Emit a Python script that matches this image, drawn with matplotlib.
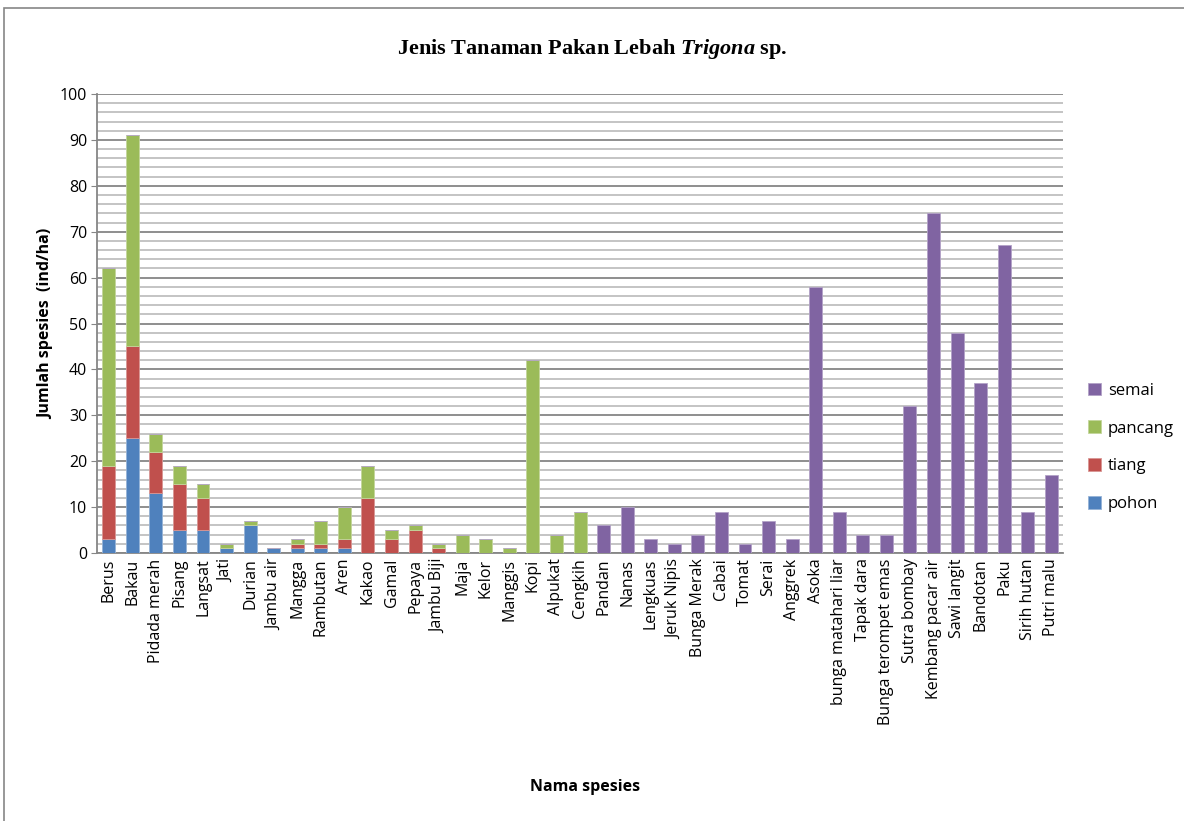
import matplotlib
matplotlib.use("Agg")
import matplotlib.pyplot as plt
import numpy as np
from matplotlib.patches import Rectangle

# data (ind/ha)
species = [
    "Berus", "Bakau", "Pidada merah", "Pisang", "Langsat", "Jati", "Durian",
    "Jambu air", "Mangga", "Rambutan", "Aren", "Kakao", "Gamal", "Pepaya",
    "Jambu Biji", "Maja", "Kelor", "Manggis", "Kopi", "Alpukat", "Cengkih",
    "Pandan", "Nanas", "Lengkuas", "Jeruk Nipis", "Bunga Merak", "Cabai",
    "Tomat", "Serai", "Anggrek", "Asoka", "bunga matahari liar", "Tapak dara",
    "Bunga terompet emas", "Sutra bombay", "Kembang pacar air", "Sawi langit",
    "Bandotan", "Paku", "Sirih hutan", "Putri malu",
]
pohon = [3, 25, 13, 5, 5, 1, 6, 1, 1, 1, 1, 0, 0, 0, 0, 0, 0, 0, 0, 0, 0,
         0, 0, 0, 0, 0, 0, 0, 0, 0, 0, 0, 0, 0, 0, 0, 0, 0, 0, 0, 0]
tiang = [16, 20, 9, 10, 7, 0, 0, 0, 1, 1, 2, 12, 3, 5, 1, 0, 0, 0, 0, 0, 0,
         0, 0, 0, 0, 0, 0, 0, 0, 0, 0, 0, 0, 0, 0, 0, 0, 0, 0, 0, 0]
pancang = [43, 46, 4, 4, 3, 1, 1, 0, 1, 5, 7, 7, 2, 1, 1, 4, 3, 1, 42, 4, 9,
           0, 0, 0, 0, 0, 0, 0, 0, 0, 0, 0, 0, 0, 0, 0, 0, 0, 0, 0, 0]
semai = [0, 0, 0, 0, 0, 0, 0, 0, 0, 0, 0, 0, 0, 0, 0, 0, 0, 0, 0, 0, 0,
         6, 10, 3, 2, 4, 9, 2, 7, 3, 58, 9, 4, 4, 32, 74, 48, 37, 67, 9, 17]

series = [
    ("pohon", pohon, "#4F81BD", "#95B3D7"),
    ("tiang", tiang, "#C0504D", "#D99694"),
    ("pancang", pancang, "#9BBB59", "#C3D69B"),
    ("semai", semai, "#8064A2", "#B3A2C7"),
]

fig = plt.figure(figsize=(11.84, 8.21), dpi=100)
ax = fig.add_axes([0.0819, 0.3264, 0.8160, 0.5591])

x = np.arange(len(species))
bottom = np.zeros(len(species))
handles = []
for name, vals, col, edge in series:
    vals = np.array(vals, dtype=float)
    b = ax.bar(x, vals, 0.55, bottom=bottom, color=col, edgecolor=edge,
               linewidth=0.6, label=name, zorder=3)
    handles.append(b)
    bottom += vals

ax.set_xlim(-0.5, len(species) - 0.5)
ax.set_ylim(0, 100)
ax.set_yticks(np.arange(0, 101, 10))
ax.set_yticks(np.arange(0, 101, 2), minor=True)
ax.grid(True, which="minor", axis="y", color="#BFBFBF", linewidth=1.3, zorder=0)
ax.grid(True, which="major", axis="y", color="#868686", linewidth=1.3, zorder=1)
ax.tick_params(axis="y", which="minor", length=0)
ax.tick_params(axis="y", which="major", length=4, color="#868686",
               labelsize=11.5, pad=3)

ax.set_xticks(x)
ax.set_xticklabels(species, rotation=90, fontsize=11.5, family="Open Sans")
ax.tick_params(axis="x", length=0, pad=4)
for lbl in ax.get_yticklabels():
    lbl.set_family("Open Sans")

for s in ["top", "right"]:
    ax.spines[s].set_visible(False)
ax.spines["left"].set_color("#868686")
ax.spines["bottom"].set_color("#868686")
ax.spines["left"].set_linewidth(1.3)
ax.spines["bottom"].set_linewidth(1.3)

ax.set_ylabel("Jumlah spesies  (ind/ha)", fontsize=11.5, fontweight="bold",
              family="Open Sans", labelpad=4)
fig.text(0.494, 0.041, "Nama spesies", ha="center", va="center",
         fontsize=11.5, fontweight="bold", family="Open Sans")

plt.rcParams["mathtext.fontset"] = "custom"
plt.rcParams["mathtext.it"] = "Liberation Serif:italic:bold"
plt.rcParams["mathtext.rm"] = "Liberation Serif:bold"
fig.text(0.50, 0.940, r"Jenis Tanaman Pakan Lebah $\mathit{Trigona}$ sp.",
         ha="center", va="center", fontsize=16, fontweight="bold",
         family="Liberation Serif")

leg = fig.legend(handles[::-1], [s[0] for s in series][::-1],
                 loc="center left", bbox_to_anchor=(0.906, 0.455),
                 frameon=False, fontsize=12, handlelength=0.8,
                 handleheight=0.8, labelspacing=1.3, handletextpad=0.4,
                 prop={"family": "Open Sans", "size": 12})

# outer chart border
fig.patches.append(Rectangle((0.003, -0.01), 1.1, 1.0,
                             transform=fig.transFigure, fill=False,
                             edgecolor="#868686", linewidth=1.2))

fig.savefig("out.png", dpi=100)
